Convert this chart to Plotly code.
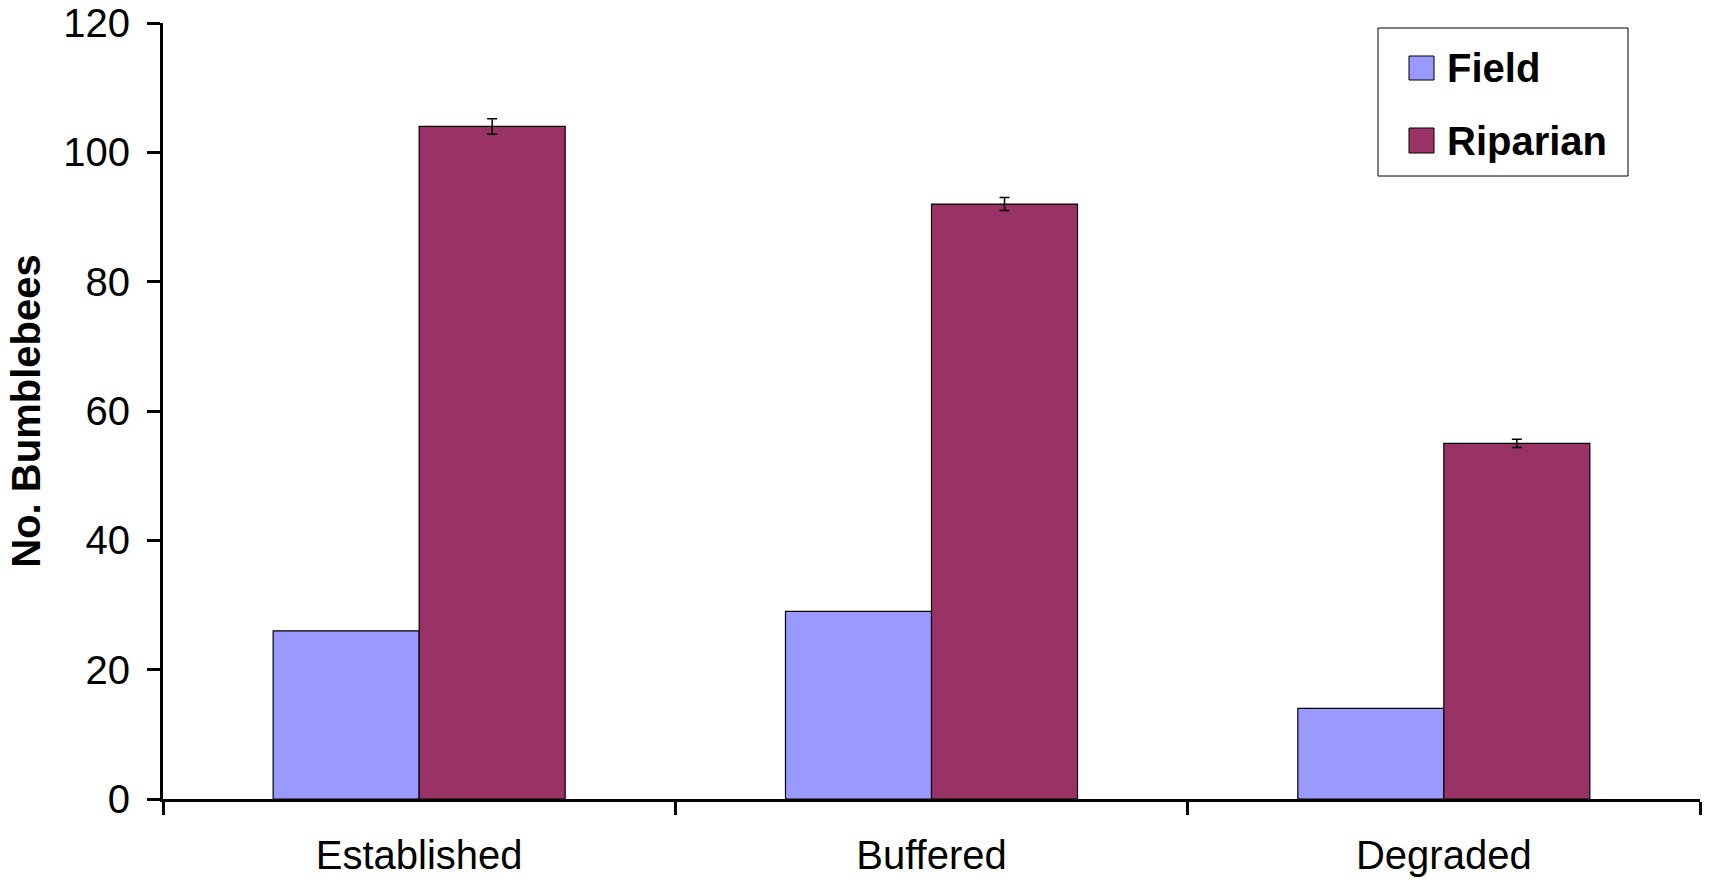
import plotly.graph_objects as go

categories = ["Established", "Buffered", "Degraded"]
field_values = [26, 29, 14]
riparian_values = [104, 92, 55]
riparian_err = [1.2, 1.0, 0.65]
y_ticks = [0, 20, 40, 60, 80, 100, 120]
series_names = ["Field", "Riparian"]
series_colors = ["#9999FF", "#993366"]

FONT = "Arial, 'Liberation Sans', sans-serif"
W, H = 1709, 880
ML, MR, MT, MB = 163, 9, 23, 81
PW, PH = W - ML - MR, H - MT - MB


def px_x(px):
    return (px - ML) / PW


def px_y(py):
    return (H - MB - py) / PH


fig = go.Figure()
fig.add_trace(go.Bar(
    name=series_names[0], x=categories, y=field_values,
    marker=dict(color=series_colors[0], line=dict(color="#000000", width=1.2)),
    showlegend=False,
))
fig.add_trace(go.Bar(
    name=series_names[1], x=categories, y=riparian_values,
    marker=dict(color=series_colors[1], line=dict(color="#000000", width=1.2)),
    error_y=dict(type="data", array=riparian_err, visible=True,
                 color="#000000", thickness=1.5, width=5),
    showlegend=False,
))

# legend box drawn in paper coordinates
shapes = [dict(type="rect", xref="paper", yref="paper",
               x0=px_x(1378), x1=px_x(1628), y0=px_y(176), y1=px_y(28),
               line=dict(color="#000000", width=1), fillcolor="white", layer="above")]
annotations = []
legend_rows = [(56, 80, 68), (128, 153, 141)]
for name, color, (top, bot, mid) in zip(series_names, series_colors, legend_rows):
    shapes.append(dict(type="rect", xref="paper", yref="paper",
                       x0=px_x(1409), x1=px_x(1434), y0=px_y(bot), y1=px_y(top),
                       line=dict(color="#000000", width=1), fillcolor=color, layer="above"))
    annotations.append(dict(text=name, xref="paper", yref="paper",
                            x=px_x(1445), y=px_y(mid), xanchor="left", yanchor="middle",
                            showarrow=False,
                            font=dict(family=FONT, size=40, color="#000000", weight="bold")))

fig.update_layout(
    width=W, height=H,
    paper_bgcolor="white", plot_bgcolor="white",
    margin=dict(l=ML, r=MR, t=MT, b=MB, autoexpand=False),
    barmode="group", bargap=0.43, bargroupgap=0,
    font=dict(family=FONT, color="#000000", size=40),
    showlegend=False,
    shapes=shapes, annotations=annotations,
)
fig.update_xaxes(
    type="category", tickson="boundaries",
    showline=True, linecolor="#000000", linewidth=3,
    ticks="outside", ticklen=13, tickwidth=3, tickcolor="#000000",
    tickfont=dict(family=FONT, size=40, color="#000000"),
    ticklabelstandoff=19,
    showgrid=False, zeroline=False,
)
fig.update_yaxes(
    range=[0, 120], tickvals=y_ticks, ticktext=[str(v) for v in y_ticks],
    showline=True, linecolor="#000000", linewidth=3,
    ticks="outside", ticklen=13, tickwidth=3, tickcolor="#000000",
    tickfont=dict(family=FONT, size=40, color="#000000"),
    ticklabelstandoff=9,
    showgrid=False, zeroline=False,
    title=dict(text="No. Bumblebees", standoff=11,
               font=dict(family=FONT, size=40, color="#000000", weight="bold")),
)

fig.write_html("out.html", config={"displayModeBar": False},
               post_script="document.body.style.margin='0';")
